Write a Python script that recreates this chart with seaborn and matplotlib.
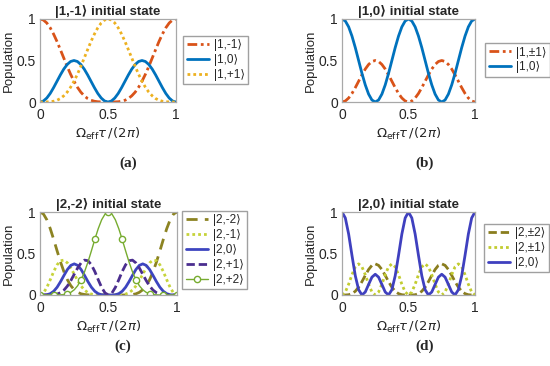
import matplotlib
matplotlib.use('Agg')
import matplotlib.pyplot as plt
import seaborn as sns

# time axis, Omega_eff*tau/(2pi)
tau = [0.0, 0.025, 0.05, 0.075, 0.1, 0.125, 0.15, 0.175, 0.2, 0.225, 0.25,
       0.275, 0.3, 0.325, 0.35, 0.375, 0.4, 0.425, 0.45, 0.475, 0.5,
       0.525, 0.55, 0.575, 0.6, 0.625, 0.65, 0.675, 0.7, 0.725, 0.75,
       0.775, 0.8, 0.825, 0.85, 0.875, 0.9, 0.925, 0.95, 0.975, 1.0]

# (a) |1,-1> initial state
a_m1 = [1.000, 0.988, 0.952, 0.894, 0.818, 0.729, 0.630, 0.529, 0.428, 0.334, 0.250,
        0.178, 0.119, 0.075, 0.042, 0.021, 0.009, 0.003, 0.001, 0.000, 0.000,
        0.000, 0.001, 0.003, 0.009, 0.021, 0.042, 0.075, 0.119, 0.178, 0.250,
        0.334, 0.428, 0.529, 0.630, 0.729, 0.818, 0.894, 0.952, 0.988, 1.000]
a_0 = [0.000, 0.012, 0.048, 0.103, 0.173, 0.250, 0.327, 0.397, 0.452, 0.488, 0.500,
       0.488, 0.452, 0.397, 0.327, 0.250, 0.173, 0.103, 0.048, 0.012, 0.000,
       0.012, 0.048, 0.103, 0.173, 0.250, 0.327, 0.397, 0.452, 0.488, 0.500,
       0.488, 0.452, 0.397, 0.327, 0.250, 0.173, 0.103, 0.048, 0.012, 0.000]
a_p1 = [0.000, 0.000, 0.001, 0.003, 0.009, 0.021, 0.042, 0.075, 0.119, 0.178, 0.250,
        0.334, 0.428, 0.529, 0.630, 0.729, 0.818, 0.894, 0.952, 0.988, 1.000,
        0.988, 0.952, 0.894, 0.818, 0.729, 0.630, 0.529, 0.428, 0.334, 0.250,
        0.178, 0.119, 0.075, 0.042, 0.021, 0.009, 0.003, 0.001, 0.000, 0.000]

# (b) |1,0> initial state
b_pm1 = [0.000, 0.012, 0.048, 0.103, 0.173, 0.250, 0.327, 0.397, 0.452, 0.488, 0.500,
         0.488, 0.452, 0.397, 0.327, 0.250, 0.173, 0.103, 0.048, 0.012, 0.000,
         0.012, 0.048, 0.103, 0.173, 0.250, 0.327, 0.397, 0.452, 0.488, 0.500,
         0.488, 0.452, 0.397, 0.327, 0.250, 0.173, 0.103, 0.048, 0.012, 0.000]
b_0 = [1.000, 0.976, 0.905, 0.794, 0.655, 0.500, 0.345, 0.206, 0.095, 0.024, 0.000,
       0.024, 0.095, 0.206, 0.345, 0.500, 0.655, 0.794, 0.905, 0.976, 1.000,
       0.976, 0.905, 0.794, 0.655, 0.500, 0.345, 0.206, 0.095, 0.024, 0.000,
       0.024, 0.095, 0.206, 0.345, 0.500, 0.655, 0.794, 0.905, 0.976, 1.000]

# (c) |2,-2> initial state
c_m2 = [1.000, 0.976, 0.906, 0.799, 0.669, 0.531, 0.397, 0.279, 0.184, 0.112, 0.063,
        0.032, 0.014, 0.006, 0.002, 0.000, 0.000, 0.000, 0.000, 0.000, 0.000,
        0.000, 0.000, 0.000, 0.000, 0.000, 0.002, 0.006, 0.014, 0.032, 0.063,
        0.112, 0.184, 0.279, 0.397, 0.531, 0.669, 0.799, 0.906, 0.976, 1.000]
c_m1 = [0.000, 0.024, 0.091, 0.184, 0.283, 0.364, 0.413, 0.420, 0.387, 0.326, 0.250,
        0.174, 0.108, 0.059, 0.028, 0.011, 0.003, 0.001, 0.000, 0.000, 0.000,
        0.000, 0.000, 0.001, 0.003, 0.011, 0.028, 0.059, 0.108, 0.174, 0.250,
        0.326, 0.387, 0.420, 0.413, 0.364, 0.283, 0.184, 0.091, 0.024, 0.000]
c_0 = [0.000, 0.000, 0.003, 0.016, 0.045, 0.094, 0.161, 0.236, 0.307, 0.357, 0.375,
       0.357, 0.307, 0.236, 0.161, 0.094, 0.045, 0.016, 0.003, 0.000, 0.000,
       0.000, 0.003, 0.016, 0.045, 0.094, 0.161, 0.236, 0.307, 0.357, 0.375,
       0.357, 0.307, 0.236, 0.161, 0.094, 0.045, 0.016, 0.003, 0.000, 0.000]
c_p1 = [0.000, 0.000, 0.000, 0.001, 0.003, 0.011, 0.028, 0.059, 0.108, 0.174, 0.250,
        0.326, 0.387, 0.420, 0.413, 0.364, 0.283, 0.184, 0.091, 0.024, 0.000,
        0.024, 0.091, 0.184, 0.283, 0.364, 0.413, 0.420, 0.387, 0.326, 0.250,
        0.174, 0.108, 0.059, 0.028, 0.011, 0.003, 0.001, 0.000, 0.000, 0.000]
c_p2 = [0.000, 0.000, 0.000, 0.000, 0.000, 0.000, 0.002, 0.006, 0.014, 0.032, 0.063,
        0.112, 0.184, 0.279, 0.397, 0.531, 0.669, 0.799, 0.906, 0.976, 1.000,
        0.976, 0.906, 0.799, 0.669, 0.531, 0.397, 0.279, 0.184, 0.112, 0.063,
        0.032, 0.014, 0.006, 0.002, 0.000, 0.000, 0.000, 0.000, 0.000, 0.000]

# (d) |2,0> initial state
d_pm2 = [0.000, 0.000, 0.003, 0.016, 0.045, 0.094, 0.161, 0.236, 0.307, 0.357, 0.375,
         0.357, 0.307, 0.236, 0.161, 0.094, 0.045, 0.016, 0.003, 0.000, 0.000,
         0.000, 0.003, 0.016, 0.045, 0.094, 0.161, 0.236, 0.307, 0.357, 0.375,
         0.357, 0.307, 0.236, 0.161, 0.094, 0.045, 0.016, 0.003, 0.000, 0.000]
d_pm1 = [0.000, 0.036, 0.130, 0.245, 0.339, 0.375, 0.339, 0.245, 0.130, 0.036, 0.000,
         0.036, 0.130, 0.245, 0.339, 0.375, 0.339, 0.245, 0.130, 0.036, 0.000,
         0.036, 0.130, 0.245, 0.339, 0.375, 0.339, 0.245, 0.130, 0.036, 0.000,
         0.036, 0.130, 0.245, 0.339, 0.375, 0.339, 0.245, 0.130, 0.036, 0.000]
d_0 = [1.000, 0.928, 0.734, 0.477, 0.232, 0.063, 0.000, 0.036, 0.127, 0.215, 0.250,
       0.215, 0.127, 0.036, 0.000, 0.063, 0.232, 0.477, 0.734, 0.928, 1.000,
       0.928, 0.734, 0.477, 0.232, 0.063, 0.000, 0.036, 0.127, 0.215, 0.250,
       0.215, 0.127, 0.036, 0.000, 0.063, 0.232, 0.477, 0.734, 0.928, 1.000]

tick_vals = [0, 0.5, 1]
tick_text = ['0', '0.5', '1']

titles = ['|1,-1⟩ initial state', '|1,0⟩ initial state',
          '|2,-2⟩ initial state', '|2,0⟩ initial state']
panel_tags = ['(a)', '(b)', '(c)', '(d)']

sns.set_style('white')
plt.rcParams['font.family'] = ['Liberation Sans', 'DejaVu Sans']
plt.rcParams['mathtext.fontset'] = 'dejavusans'

fig = plt.figure(figsize=(5.5, 3.66), dpi=100)

W, H = 550, 366
def px_axes(l, t, r, b):
    return fig.add_axes([l / W, 1 - b / H, (r - l) / W, (b - t) / H])

axes = [px_axes(40, 19, 176, 102), px_axes(342, 19, 475, 102),
        px_axes(40, 212, 177, 295), px_axes(342, 212, 475, 295)]

dash = (0, (3, 1.4))
dashdot = (0, (3.5, 1.3, 1, 1.3))
dots = (0, (1, 1.1))
longdash = (0, (4, 2.6))

curves = [
    [(a_m1, '|1,-1⟩', '#D95319', dashdot, 2.0),
     (a_0, '|1,0⟩', '#0072BD', '-', 2.0),
     (a_p1, '|1,+1⟩', '#EDB120', dots, 2.0)],
    [(b_pm1, '|1,±1⟩', '#D95319', dashdot, 2.0),
     (b_0, '|1,0⟩', '#0072BD', '-', 2.0)],
    [(c_m2, '|2,-2⟩', '#8C8322', longdash, 2.0),
     (c_m1, '|2,-1⟩', '#C6D33A', dots, 2.0),
     (c_0, '|2,0⟩', '#3D45C0', '-', 2.0),
     (c_p1, '|2,+1⟩', '#4B2E8F', dash, 2.0),
     (c_p2, '|2,+2⟩', '#77AC30', '-', 1.0)],
    [(d_pm2, '|2,±2⟩', '#8A7D1E', dash, 2.0),
     (d_pm1, '|2,±1⟩', '#C2CC30', dots, 2.0),
     (d_0, '|2,0⟩', '#3F40BF', '-', 2.0)],
]

# legend anchors in pixels (left edge, vertical centre)
leg_pos = [(183, 60), (485, 60), (182, 250), (484, 248)]
tag_pos = [(128, 163), (425, 163), (123, 346), (425, 346)]

for i, ax in enumerate(axes):
    for y, lab, col, ls, lw in curves[i]:
        if lab == '|2,+2⟩':
            sns.lineplot(x=tau, y=y, ax=ax, color=col, linestyle=ls, linewidth=lw,
                         label=lab, marker='o', markevery=4, markersize=4.5,
                         markerfacecolor='white', markeredgecolor=col,
                         markeredgewidth=1.0)
        else:
            sns.lineplot(x=tau, y=y, ax=ax, color=col, linestyle=ls, linewidth=lw,
                         label=lab)
    ax.set_xlim(0, 1)
    ax.set_ylim(0, 1)
    ax.set_xticks(tick_vals)
    ax.set_xticklabels(tick_text)
    ax.set_yticks(tick_vals)
    ax.set_yticklabels(tick_text)
    ax.tick_params(direction='in', length=2.5, width=0.6, color='#999999',
                   labelsize=10, labelcolor='#262626', pad=3)
    ax.tick_params(axis='x', pad=4)
    for sp in ax.spines.values():
        sp.set_color('#A8A8A8')
        sp.set_linewidth(0.9)
    ax.set_title(titles[i], fontsize=9.5, fontweight='bold', pad=3)
    ax.set_ylabel('Population', fontsize=9.5, labelpad=1, color='#262626')
    ax.set_xlabel(r'$\Omega_{\mathrm{eff}}\tau\,/(2\pi)$', fontsize=9.5, labelpad=3,
                  color='#262626')
    lx, ly = leg_pos[i]
    ax.legend(loc='center left', bbox_to_anchor=(lx / W, 1 - ly / H),
              bbox_transform=fig.transFigure, fontsize=8.5, frameon=True,
              fancybox=False, edgecolor='#A0A0A0', framealpha=1,
              handlelength=1.9, handletextpad=0.4, borderpad=0.3,
              labelspacing=0.25, borderaxespad=0)
    tx, ty = tag_pos[i]
    fig.text(tx / W, 1 - ty / H, panel_tags[i], ha='center', va='center',
             fontfamily='Liberation Serif', fontweight='bold', fontsize=11)

fig.savefig('out.png', dpi=100)
